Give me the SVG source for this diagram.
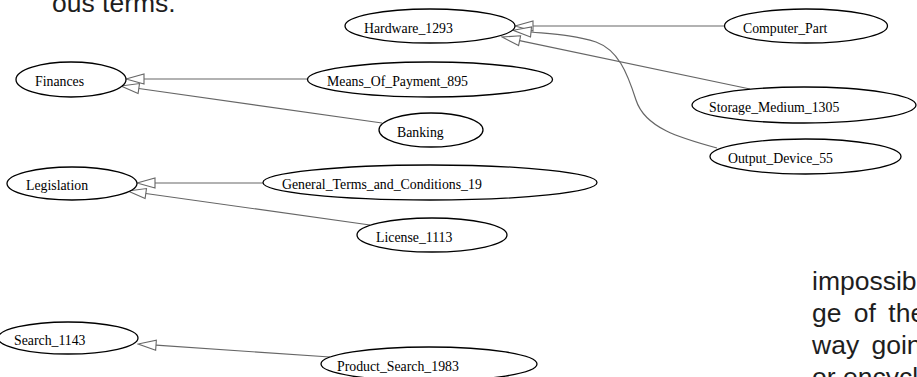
<svg xmlns="http://www.w3.org/2000/svg" width="917" height="377" viewBox="0 0 917 377">
<style>
.bg{fill:#ffffff}
.doc{font-family:"Liberation Sans",Arial,sans-serif;font-size:26.5px;fill:#1e1e1e}
.node ellipse{fill:#ffffff;stroke:#000000;stroke-width:1.3}
.node text{font-family:"Liberation Serif","Times New Roman",serif;font-size:13.8px;fill:#000000}
.edge{fill:none;stroke:#666666;stroke-width:1.2}
</style>
<defs>
<marker id="empty" viewBox="-1 -6 20 12" refX="0" refY="0" markerWidth="20" markerHeight="12" markerUnits="userSpaceOnUse" orient="auto">
<path d="M0,-5 L18,0 L0,5 Z" fill="#ffffff" stroke="#666666" stroke-width="1.1"/>
</marker>
</defs>
<rect class="bg" x="0" y="0" width="917" height="377"/>
<g id="page-text">
<text class="doc" x="52" y="12">ous terms.</text>
<text class="doc" x="812" y="290">impossib</text>
<text class="doc" x="812" y="322" word-spacing="5">ge of the</text>
<text class="doc" x="812" y="354" word-spacing="5">way goin</text>
<text class="doc" x="812" y="386">or encycl</text>
</g>
<g id="connectors">
<path class="edge" d="M725,26 L533,26" marker-end="url(#empty)"/>
<path class="edge" d="M750,89 L519.6,40.7" marker-end="url(#empty)"/>
<path class="edge" d="M717,148 C680,138 645,128 636,100 C627,72 618,50 596,42 C575,35 552,34 531,32" marker-end="url(#empty)"/>
<path class="edge" d="M308,79 L144,79" marker-end="url(#empty)"/>
<path class="edge" d="M382,123 L138.8,88.5" marker-end="url(#empty)"/>
<path class="edge" d="M263,183 L155,183" marker-end="url(#empty)"/>
<path class="edge" d="M370,225 L145.8,193.5" marker-end="url(#empty)"/>
<path class="edge" d="M330,357 L156,345.2" marker-end="url(#empty)"/>
</g>
<g id="Hardware_1293" class="node"><ellipse cx="430" cy="26" rx="85" ry="17"/><text x="364" y="32.5">Hardware_1293</text></g>
<g id="Finances" class="node"><ellipse cx="71" cy="79.5" rx="55" ry="17.5"/><text x="35" y="86">Finances</text></g>
<g id="Means_Of_Payment_895" class="node"><ellipse cx="430" cy="79.5" rx="122.5" ry="17.5"/><text x="327" y="86">Means_Of_Payment_895</text></g>
<g id="Banking" class="node"><ellipse cx="431" cy="130" rx="52" ry="17"/><text x="397" y="136.5">Banking</text></g>
<g id="Computer_Part" class="node"><ellipse cx="806" cy="26" rx="81.5" ry="17"/><text x="743" y="32.5">Computer_Part</text></g>
<g id="Storage_Medium_1305" class="node"><ellipse cx="804" cy="105" rx="112" ry="18"/><text x="709" y="111.5">Storage_Medium_1305</text></g>
<g id="Output_Device_55" class="node"><ellipse cx="805.5" cy="156.5" rx="95.5" ry="17.5"/><text x="728" y="163">Output_Device_55</text></g>
<g id="Legislation" class="node"><ellipse cx="72" cy="183.5" rx="65" ry="16.5"/><text x="26" y="190">Legislation</text></g>
<g id="General_Terms_and_Conditions_19" class="node"><ellipse cx="430" cy="182.5" rx="167" ry="17.5"/><text x="282" y="189">General_Terms_and_Conditions_19</text></g>
<g id="License_1113" class="node"><ellipse cx="432" cy="235" rx="75" ry="17"/><text x="376" y="241.5">License_1113</text></g>
<g id="Search_1143" class="node"><ellipse cx="68" cy="338" rx="70" ry="16"/><text x="14" y="344.5">Search_1143</text></g>
<g id="Product_Search_1983" class="node"><ellipse cx="429" cy="364" rx="108" ry="17"/><text x="337" y="370.5">Product_Search_1983</text></g>
</svg>
